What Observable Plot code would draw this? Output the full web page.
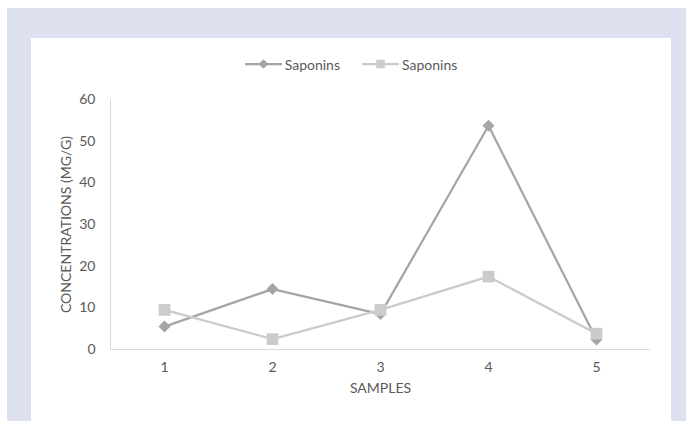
<!DOCTYPE html>
<html>
<head>
<meta charset="utf-8">
<script src="https://cdn.jsdelivr.net/npm/d3@7"></script>
<script src="https://cdn.jsdelivr.net/npm/@observablehq/plot@0.6"></script>
<style>
  body { margin: 0; background: #fff; font-family: Lato, "Open Sans", sans-serif; }
  #frame { position: relative; width: 686px; height: 421px; overflow: hidden; background: #fff; }
  #band { position: absolute; left: 7px; top: 8px; right: 0; bottom: 0; background: #dde0ee; }
  #panel { position: absolute; left: 31px; top: 38px; width: 640px; height: 383px; background: #fff; }
  #legend { position: absolute; left: 0; top: 16px; width: 640px; height: 20px;
            display: flex; justify-content: center; align-items: center; gap: 22px;
            font-size: 14px; color: #595959; }
  .item { display: flex; align-items: center; gap: 3px; }
  #chart { position: absolute; left: 0; top: 46px; }
</style>
</head>
<body>
<div id="frame">
  <div id="band"></div>
  <div id="panel">
    <div id="legend"></div>
    <div id="chart"></div>
  </div>
</div>
<script>
// Sample numbers along the x axis
const samples = [1, 2, 3, 4, 5];
// Concentrations (mg/g) for the two series
const saponinsA = [5.5, 14.5, 8.5, 53.7, 2.4];
const saponinsB = [9.5, 2.5, 9.5, 17.5, 3.8];
const seriesNames = ["Saponins", "Saponins"];
const seriesColors = ["#a5a5a5", "#cbcbcb"];
const seriesSymbols = ["diamond2", "square"];
const yTicks = [0, 10, 20, 30, 40, 50, 60];

const seriesValues = [saponinsA, saponinsB];
const rows = seriesValues.flatMap((vals, s) =>
  samples.map((x, i) => ({ sample: x, value: vals[i], series: s }))
);

const lineMarks = seriesValues.flatMap((_, s) => {
  const data = rows.filter(d => d.series === s);
  return [
    Plot.line(data, { x: "sample", y: "value", stroke: seriesColors[s], strokeWidth: 2.25 }),
    Plot.dot(data, {
      x: "sample", y: "value", symbol: () => seriesSymbols[s],
      fill: seriesColors[s], stroke: "none", r: s === 0 ? 5.4 : 6.6
    })
  ];
});

const chart = Plot.plot({
  width: 640,
  height: 337,
  marginTop: 15,
  marginBottom: 72,
  marginLeft: 79,
  marginRight: 21,
  style: { fontFamily: "Lato, 'Open Sans', sans-serif", fontSize: "14px", color: "#595959", background: "transparent", overflow: "visible" },
  x: { type: "point", domain: samples, padding: 0.5 },
  y: { domain: [0, 60], ticks: yTicks },
  symbol: { type: "identity" },
  marks: [
    Plot.frame({ anchor: "left", stroke: "#d9d9d9", strokeOpacity: 1 }),
    Plot.ruleY([0], { stroke: "#d9d9d9" }),
    Plot.axisX({ tickSize: 0, tickPadding: 13, label: null, fill: "#595959" }),
    Plot.axisY({ ticks: yTicks, tickSize: 0, tickPadding: 15, label: null, fill: "#595959" }),
    Plot.text(["SAMPLES"], { frameAnchor: "bottom", dy: 43, text: d => d, fill: "#595959", fontSize: 14 }),
    Plot.text(["CONCENTRATIONS (MG/G)"], { frameAnchor: "left", textAnchor: "middle", dx: -44, rotate: -90, text: d => d, fill: "#595959", fontSize: 14 }),
    ...lineMarks
  ]
});
document.getElementById("chart").appendChild(chart);

// Legend built from the series names, colours and symbols
const legend = document.getElementById("legend");
seriesNames.forEach((name, s) => {
  const item = document.createElement("div");
  item.className = "item";
  const svg = d3.create("svg").attr("width", 37).attr("height", 14);
  svg.append("line").attr("x1", 0).attr("x2", 37).attr("y1", 7).attr("y2", 7)
    .attr("stroke", seriesColors[s]).attr("stroke-width", 2.25);
  const sym = s === 0 ? d3.symbolDiamond2 : d3.symbolSquare;
  const size = s === 0 ? 60 : 70;
  svg.append("path").attr("transform", "translate(18.5,7)")
    .attr("d", d3.symbol(sym, size)()).attr("fill", seriesColors[s]);
  item.appendChild(svg.node());
  const label = document.createElement("span");
  label.textContent = name;
  item.appendChild(label);
  legend.appendChild(item);
});
</script>
</body>
</html>
